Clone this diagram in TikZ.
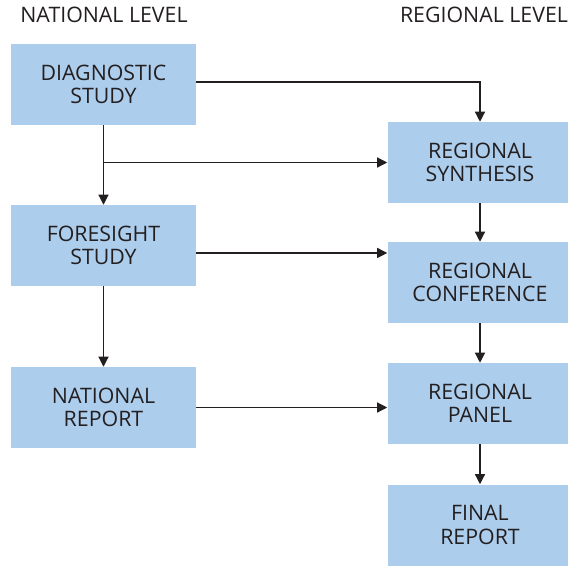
\documentclass[tikz,border=0pt]{standalone}
\usepackage{fontspec}
\setmainfont{Open Sans}
\usetikzlibrary{arrows.meta}

\definecolor{boxblue}{RGB}{173,205,236}
\definecolor{ink}{RGB}{35,31,32}

\tikzset{
  box/.style={fill=boxblue, minimum width=138.75pt, minimum height=60.75pt,
    inner sep=0pt, align=center, text depth=0pt, text=ink},
  level/.style={anchor=base, text=ink},
  arr/.style={draw=ink, line width=0.9pt, -{Triangle[length=7.5pt,width=7.5pt]}}
}

\begin{document}
\begin{tikzpicture}[x=0.75pt,y=-0.75pt,
    font=\fontsize{16}{17.5}\selectfont]
  \useasboundingbox (0,0) rectangle (568,565);
  % column headings
  \node[level] (natlevel) at (104,22.3) {NATIONAL LEVEL};
  \node[level] (reglevel) at (484,22.3) {REGIONAL LEVEL};
  % national column
  \node[box] (diag) at (103.5,84.5) {DIAGNOSTIC\\STUDY};
  \node[box] (fore) at (103.5,245.5) {FORESIGHT\\STUDY};
  \node[box] (natrep) at (103.5,407.5) {NATIONAL\\REPORT};
  % regional column
  \node[box] (synth) at (480,162.5) {REGIONAL\\SYNTHESIS};
  \node[box] (conf) at (480,282.5) {REGIONAL\\CONFERENCE};
  \node[box] (panel) at (480,403.5) {REGIONAL\\PANEL};
  \node[box] (final) at (480,525) {FINAL\\REPORT};
  % national flow
  \draw[arr] (diag.south) -- (fore.north);
  \draw[arr] (fore.south) -- (natrep.north);
  % regional flow
  \draw[arr] (synth.south) -- (conf.north);
  \draw[arr] (conf.south) -- (panel.north);
  \draw[arr] (panel.south) -- (final.north);
  % links across
  \coordinate (split) at (diag.south |- synth.west);
  \coordinate (forelink) at ([yshift=-5.6pt]fore.east);
  \draw[arr] ([yshift=1.9pt]diag.east) -| (synth.north);
  \draw[arr] (split) -- (synth.west);
  \draw[arr] (forelink) -- (forelink -| conf.west);
  \draw[arr] (natrep.east) -- (natrep.east -| panel.west);
\end{tikzpicture}
\end{document}
